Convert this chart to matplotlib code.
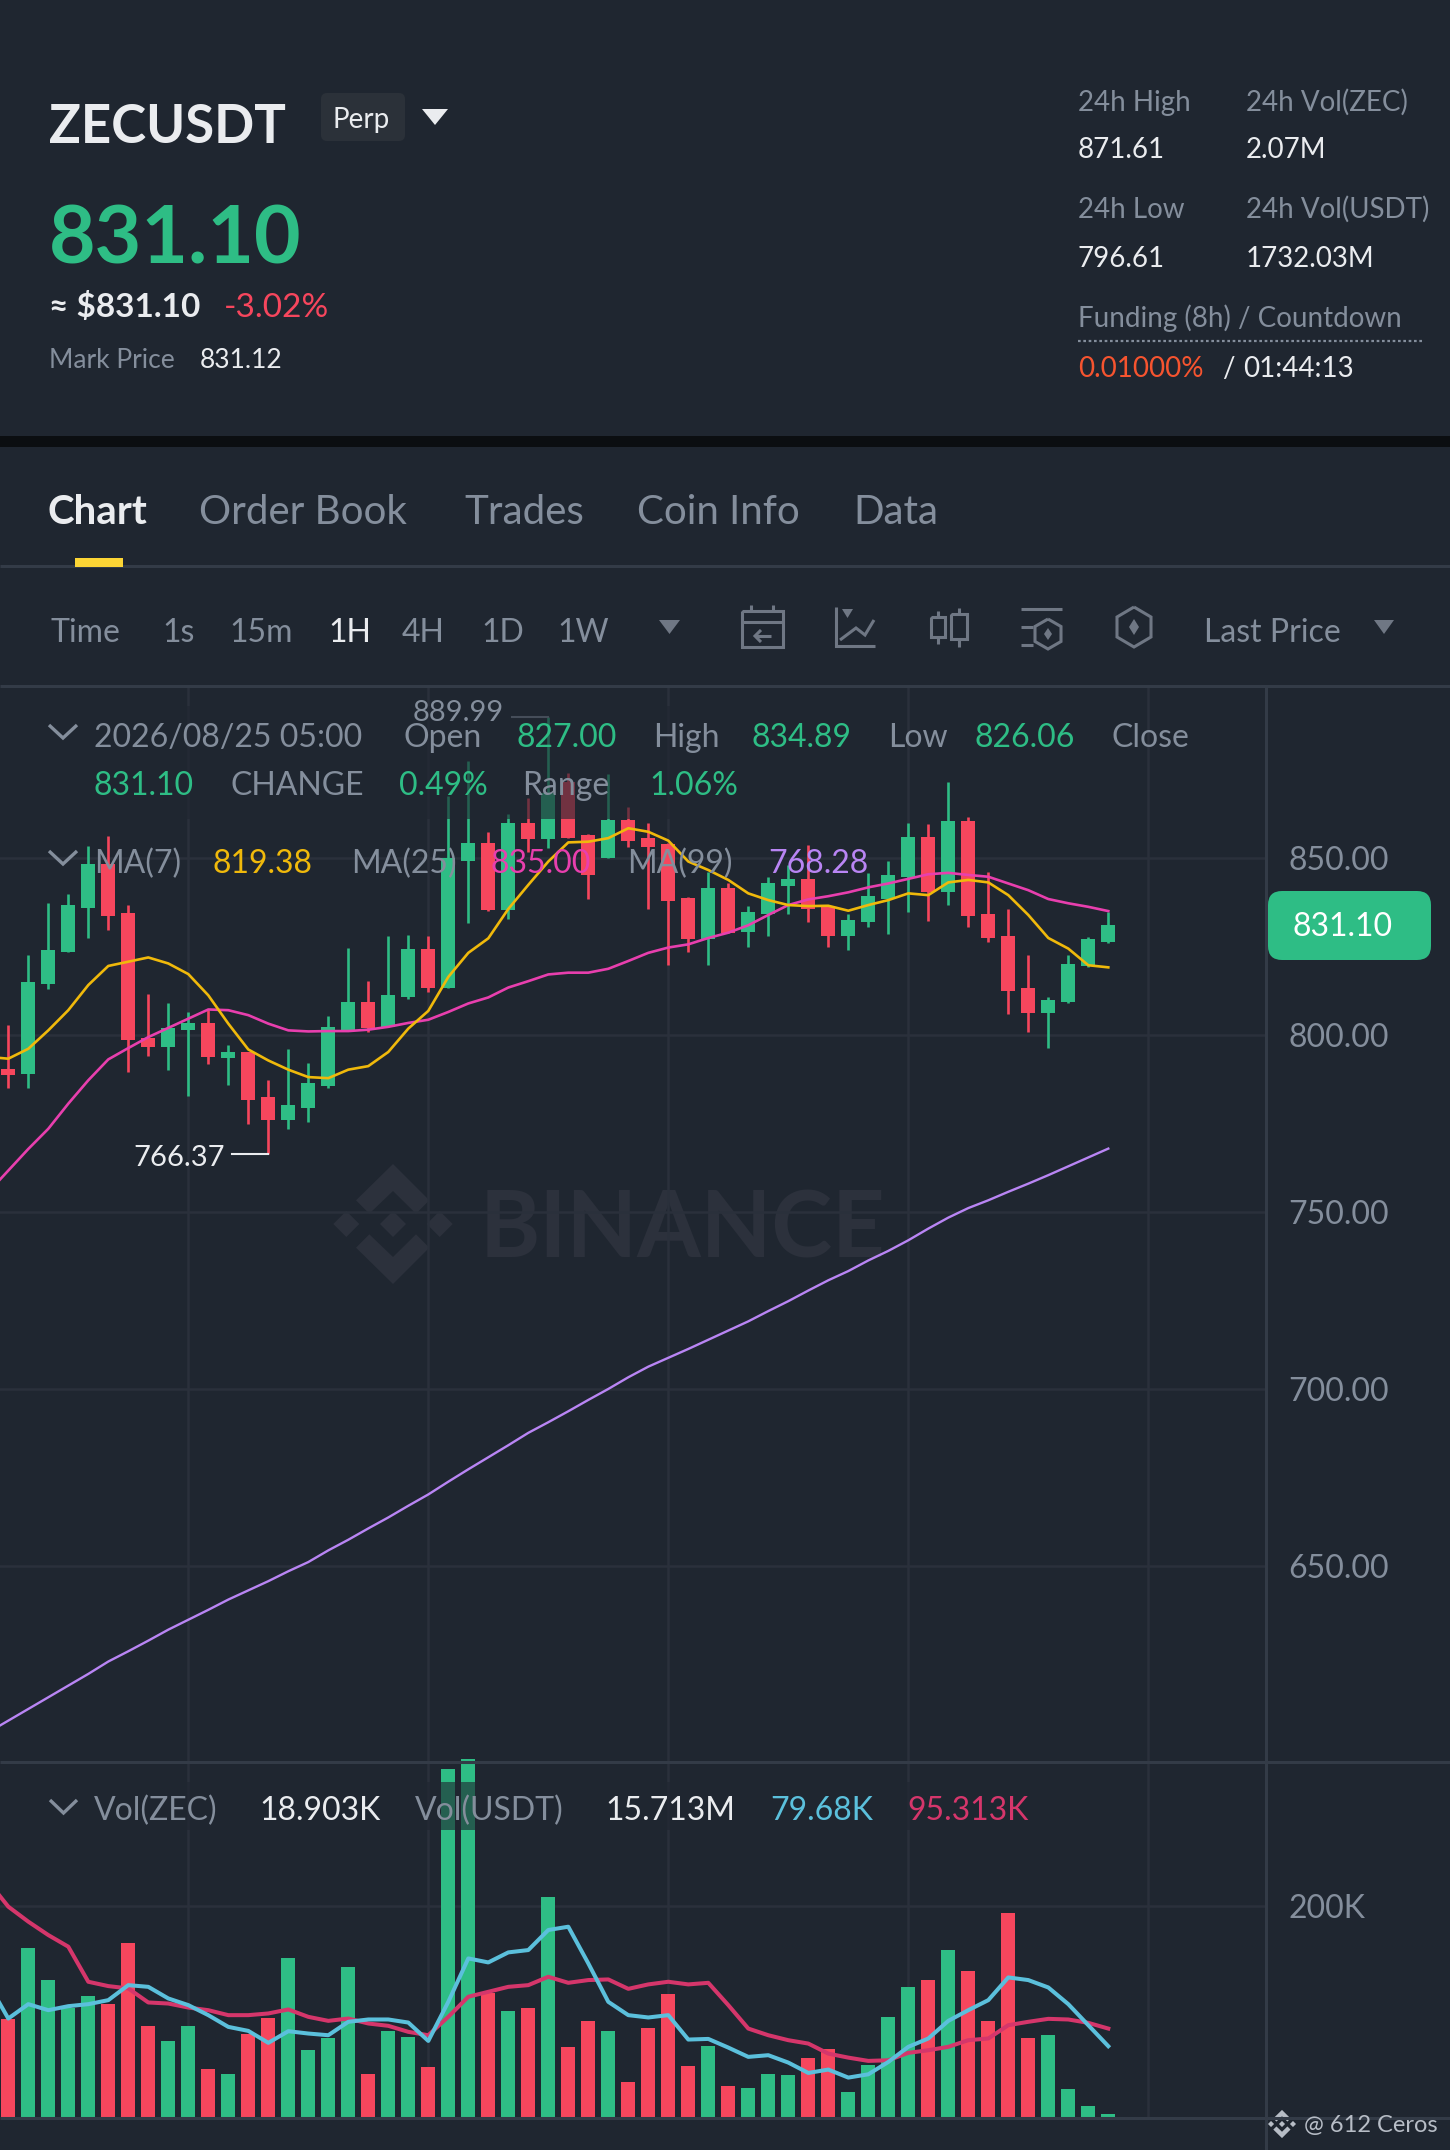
import matplotlib as mpl
import matplotlib.pyplot as plt
import numpy as np
from matplotlib.patches import FancyBboxPatch, Polygon, Rectangle

BG = "#1F2630"
GREEN = "#2EBD85"
RED = "#F6465D"
GRAY = "#848E9C"
WHITE = "#EAECEF"
GRID = "#2A303B"
LINE = "#333B47"
ICON = "#6F7784"

candle_open = [790.6, 789.0, 814.4, 823.4, 836.0, 848.3, 834.6, 799.2, 796.7, 801.4, 803.6, 793.7, 795.3, 782.5,
               776.1, 779.4, 785.7, 801.6, 809.4, 802.4, 810.7, 824.3, 813.5, 849.2, 854.2, 835.4, 859.9, 855.4,
               871.7, 856.6, 850.2, 860.8, 855.7, 854.1, 838.8, 827.1, 841.7, 829.1, 834.2, 842.3, 844.1, 836.3,
               828.0, 831.9, 838.4, 844.8, 855.9, 840.6, 860.6, 834.4, 828.1, 813.3, 806.4, 809.4, 819.5, 826.5]
candle_high = [802.8, 822.8, 837.5, 839.8, 853.6, 856.4, 836.8, 811.8, 809.0, 806.6, 807.1, 797.2, 795.3, 787.3,
               796.2, 792.2, 805.5, 824.7, 815.3, 828.0, 828.3, 828.1, 867.5, 877.5, 857.5, 862.5, 867.0, 889.99,
               874.0, 856.8, 873.8, 864.4, 859.9, 854.2, 839.0, 846.2, 843.0, 836.6, 844.6, 848.1, 853.7, 836.5,
               834.4, 845.8, 849.2, 859.9, 859.6, 871.5, 861.8, 846.2, 835.8, 822.8, 810.7, 822.6, 827.8, 834.9]
candle_low = [785.2, 785.1, 813.2, 823.4, 827.5, 829.7, 789.6, 794.2, 790.1, 783.0, 792.0, 786.1, 775.0, 766.37,
              773.6, 775.4, 785.2, 801.4, 801.0, 802.4, 810.2, 812.3, 813.5, 831.6, 835.2, 833.0, 851.9, 853.0,
              855.7, 838.4, 850.2, 853.3, 835.8, 820.0, 823.4, 820.0, 828.8, 825.0, 828.0, 834.4, 832.1, 825.0,
              824.2, 830.7, 828.6, 834.7, 832.4, 836.8, 830.5, 826.4, 806.0, 801.0, 796.5, 809.2, 819.3, 826.1]
candle_close = [788.9, 815.1, 824.1, 836.8, 848.3, 833.8, 798.6, 796.7, 802.1, 803.6, 793.9, 795.3, 781.8, 776.1,
                780.2, 786.5, 802.4, 809.4, 802.2, 811.4, 824.3, 813.5, 850.0, 854.2, 835.4, 859.9, 855.4, 868.4,
                855.7, 845.3, 860.8, 854.9, 853.3, 838.0, 827.1, 841.7, 828.8, 834.9, 843.1, 844.1, 835.8, 828.0,
                832.5, 839.3, 845.3, 855.9, 840.6, 860.6, 833.8, 827.4, 812.5, 806.4, 810.1, 820.1, 827.3, 831.3]

# the averages start one candle left of the screen, so the lines run off the edge
ma7 = [793.9, 793.4, 796.2, 801.4, 807.1, 814.2, 819.6, 820.8, 822.0, 820.3, 817.3, 811.3, 803.3, 796.0, 792.9,
       790.3, 788.2, 787.9, 790.3, 791.3, 795.3, 801.9, 806.9, 816.5, 823.3, 827.4, 835.7, 842.5, 849.1, 854.5,
       854.7, 855.7, 858.5, 857.5, 855.0, 849.1, 846.7, 843.9, 840.1, 838.2, 836.8, 836.5, 836.6, 835.2, 836.8,
       838.2, 840.1, 839.6, 843.2, 843.9, 843.2, 839.6, 834.0, 827.5, 824.5, 819.8, 819.2]
ma25 = [755.7, 761.8, 767.9, 773.6, 780.7, 787.3, 793.2, 796.4, 799.5, 802.1, 804.7, 807.3, 807.1, 805.7, 803.3,
        801.4, 801.1, 801.2, 801.2, 801.6, 802.4, 803.5, 804.4, 806.6, 809.0, 810.7, 813.5, 815.3, 817.2, 817.7,
        817.7, 818.8, 821.0, 823.3, 824.8, 825.7, 827.5, 829.0, 831.1, 834.0, 836.8, 838.4, 839.3, 840.4, 841.8,
        842.9, 844.2, 845.5, 845.9, 845.3, 844.8, 842.9, 841.0, 838.5, 837.3, 836.3, 835.1]
ma99 = [603.1, 606.4, 609.7, 613.0, 616.3, 619.6, 623.1, 626.0, 629.0, 632.1, 634.9, 637.7, 640.6, 643.2, 645.8,
        648.6, 651.2, 654.5, 657.5, 660.7, 663.8, 667.1, 670.3, 673.9, 677.4, 680.8, 684.2, 687.7, 690.7, 693.8,
        697.0, 700.1, 703.4, 706.4, 708.9, 711.4, 714.0, 716.6, 719.2, 722.1, 724.9, 727.9, 730.8, 733.4, 736.4,
        739.1, 742.1, 745.4, 748.5, 751.2, 753.4, 755.8, 758.1, 760.5, 763.0, 765.5, 768.0]

# volume in thousands
volume = [92.3, 159.6, 129.9, 102.7, 114.7, 107.4, 165.0, 86.0, 72.4, 86.6, 45.5, 41.0, 79.0, 93.9, 150.7, 63.5,
          75.2, 141.6, 40.8, 81.5, 75.8, 47.4, 329.6, 338.8, 116.9, 100.2, 102.7, 208.2, 66.4, 90.4, 81.8, 33.5,
          84.4, 116.3, 48.7, 67.0, 29.7, 27.2, 40.4, 40.1, 55.6, 64.8, 23.4, 49.0, 94.8, 122.9, 129.9, 158.3,
          137.8, 90.7, 192.8, 74.6, 78.0, 26.9, 10.1, 3.2]
vol_ma_short = [126.4, 93.2, 106.8, 101.1, 104.9, 106.8, 110.6, 124.8, 123.2, 112.2, 105.9, 96.4, 85.3, 81.5, 70.2,
                81.2, 79.0, 77.4, 90.1, 92.3, 92.3, 89.4, 72.0, 109.0, 150.1, 146.3, 155.8, 158.0, 177.0, 180.1,
                145.4, 109.0, 96.4, 94.2, 96.4, 73.3, 73.9, 65.7, 56.9, 58.5, 51.5, 41.7, 44.9, 37.3, 40.4, 52.1,
                66.4, 74.3, 91.0, 101.1, 110.6, 132.1, 129.6, 122.6, 106.8, 86.9, 67.0]
vol_ma_long = [222.8, 199.1, 184.9, 172.2, 161.2, 128.0, 123.9, 121.7, 108.4, 107.4, 103.6, 101.1, 96.4, 96.4, 98.0,
               101.8, 94.8, 91.0, 93.2, 88.5, 86.3, 80.6, 77.4, 94.8, 113.8, 118.5, 123.2, 124.8, 132.7, 127.0,
               129.6, 130.2, 121.3, 125.5, 128.0, 125.5, 127.0, 105.9, 83.7, 77.4, 72.7, 69.5, 60.0, 56.2, 53.1,
               53.7, 60.7, 63.2, 66.4, 72.7, 74.3, 86.9, 90.1, 92.9, 92.3, 89.1, 83.7]

price_ticks = [650, 700, 750, 800, 850]
volume_ticks = [200]
time_ticks = [9, 21, 33, 45, 57]

mpl.rcParams["font.family"] = ["Lato", "DejaVu Sans"]

W, H = 1450, 2150
fig = plt.figure(figsize=(W / 100, H / 100), dpi=100, facecolor=BG)


def pane(x0, y0, x1, y1):
    a = fig.add_axes([x0 / W, 1 - y1 / H, (x1 - x0) / W, (y1 - y0) / H], facecolor="none", zorder=1)
    for s in a.spines.values():
        s.set_visible(False)
    a.grid(True, color=GRID, linewidth=1.8, zorder=0)
    a.set_axisbelow(True)
    a.tick_params(length=0, labelbottom=False, labelleft=False, labelright=True, labelcolor=GRAY,
                  labelsize=23, pad=17)
    return a


# watermark sits under the panes
back = fig.add_axes([0, 0, 1, 1], zorder=0, facecolor="none")
back.set_xlim(0, W)
back.set_ylim(H, 0)
back.axis("off")

top = fig.add_axes([0, 0, 1, 1], zorder=2, facecolor="none")
top.set_xlim(0, W)
top.set_ylim(H, 0)
top.axis("off")


def logo(a, cx, cy, scale, color):
    chevron = np.array([(0, -60), (36.3, -23.7), (23, -10.3), (0, -33), (-23.7, -10.3), (-37, -23.7)])
    diamond = np.array([(0, -13), (13, 0), (0, 13), (-13, 0)])
    a.add_patch(Polygon(chevron * scale + (cx, cy), color=color, lw=0))
    a.add_patch(Polygon(chevron * (1, -1) * scale + (cx, cy), color=color, lw=0))
    for dx in (-46.7, 0, 46.7):
        a.add_patch(Polygon((diamond + (dx, 0)) * scale + (cx, cy), color=color, lw=0))


logo(back, 393, 1224, 1.0, "#2C313C")
back.text(480, 1257, "BINANCE", color="#2C313C", fontsize=66, fontweight="bold", va="baseline")

# price pane
ax = pane(0, 687, 1265, 1761)
idx = np.arange(len(candle_open))
ma_idx = np.arange(-1, len(candle_open))
o = np.array(candle_open)
c = np.array(candle_close)
colors = [GREEN if b >= a else RED for a, b in zip(o, c)]
ax.vlines(idx, candle_low, candle_high, colors=colors, linewidth=1.9, zorder=3)
ax.bar(idx, np.abs(c - o), bottom=np.minimum(o, c), width=0.7, color=colors, linewidth=0, zorder=3)
ax.plot(ma_idx, ma99, color="#B985F4", linewidth=1.7, zorder=4)
ax.plot(ma_idx, ma25, color="#E83FAE", linewidth=1.9, zorder=5)
ax.plot(ma_idx, ma7, color="#F0B90B", linewidth=1.9, zorder=6)
hi = int(np.argmax(candle_high))
lo = int(np.argmin(candle_low))
ax.plot([hi - 1.8, hi], [candle_high[hi]] * 2, color=GRAY, linewidth=1.5, zorder=3)
ax.plot([lo - 1.8, lo], [candle_low[lo]] * 2, color=WHITE, linewidth=1.5, zorder=3)
ax.set_xlim(-0.415, 62.835)
ax.set_ylim(595.0, 898.4)
ax.set_xticks(time_ticks)
ax.set_yticks(price_ticks)
ax.set_yticklabels([f"{t:.2f}" for t in price_ticks])

# volume pane
vx = pane(0, 1762, 1265, 2117)
vx.bar(idx, volume, width=0.7, color=colors, linewidth=0, zorder=3, clip_on=False)
vx.plot(ma_idx, vol_ma_long, color="#D5366B", linewidth=2.9, zorder=4)
vx.plot(ma_idx, vol_ma_short, color="#5BC0DC", linewidth=2.9, zorder=5)
vx.set_xlim(-0.415, 62.835)
vx.set_ylim(0, 336)
vx.set_xticks(time_ticks)
vx.set_yticks(volume_ticks)
vx.set_yticklabels(["200K"])


def label(x, y, s, color=GRAY, size=20, weight="normal", z=6):
    top.text(x, y, s, color=color, fontsize=size, fontweight=weight, va="baseline", ha="left", zorder=z)


def stroke(xs, ys, color=ICON, lw=2.2):
    top.plot(xs, ys, color=color, linewidth=lw, solid_capstyle="butt", solid_joinstyle="miter")


def tri(x0, x1, y0, y1, color):
    top.add_patch(Polygon([(x0, y0), (x1, y0), ((x0 + x1) / 2, y1)], color=color, lw=0))


def chevron(x0, x1, y0, y1):
    stroke([x0, (x0 + x1) / 2, x1], [y0, y1, y0], color=GRAY, lw=2.4)


def hexagon(cx, cy, w, h, dw, dh):
    stroke([cx, cx + w, cx + w, cx, cx - w, cx - w, cx],
           [cy - h, cy - h * 0.5, cy + h * 0.5, cy + h, cy + h * 0.5, cy - h * 0.5, cy - h])
    top.add_patch(Polygon([(cx, cy - dh), (cx + dw, cy), (cx, cy + dh), (cx - dw, cy)], color=ICON, lw=0))


# legend rows dim what is under them
top.add_patch(Rectangle((45, 706), 705, 113, facecolor=BG, alpha=0.62, lw=0, zorder=1))
top.add_patch(Rectangle((45, 1782), 1010, 48, facecolor=BG, alpha=0.62, lw=0, zorder=1))

# dividers
top.add_patch(Rectangle((0, 436), W, 11, facecolor="#0B0E11", lw=0))
for y in (565.5, 685.5, 1761.5, 2117.5):
    stroke([0, W], [y, y], color=LINE, lw=2.2)
stroke([1266, 1266], [687, H], color=LINE, lw=2.2)

# header
label(49, 143, "ZECUSDT", WHITE, 38, "bold")
top.add_patch(FancyBboxPatch((325, 97), 76, 40, boxstyle="round,pad=4,rounding_size=6", facecolor="#2B3139", lw=0))
label(333, 128, "Perp", WHITE, 20)
tri(422, 448, 109, 125, WHITE)
label(49, 264, "831.10", GREEN, 58, "bold")
label(49, 317, "≈ $831.10", WHITE, 24, "bold")
label(224, 317, "-3.02%", RED, 24, "normal")
label(49, 368, "Mark Price", GRAY, 19)
label(200, 368, "831.12", WHITE, 19)

label(1078, 111, "24h High")
label(1246, 111, "24h Vol(ZEC)")
label(1078, 158, "871.61", WHITE)
label(1246, 158, "2.07M", WHITE)
label(1078, 218, "24h Low")
label(1246, 218, "24h Vol(USDT)")
label(1078, 267, "796.61", WHITE)
label(1246, 267, "1732.03M", WHITE)
label(1078, 327, "Funding (8h) / Countdown")
top.plot([1078, 1422], [341, 341], color=GRAY, linewidth=1.6, linestyle=(0, (1.2, 1.2)))
label(1078, 377, "0.01000%", "#F6542F")
label(1222, 377, "/", WHITE)
label(1243, 377, "01:44:13", WHITE)

# tabs
label(48, 524, "Chart", WHITE, 29, "bold")
label(199, 524, "Order Book", GRAY, 29)
label(464, 524, "Trades", GRAY, 29)
label(637, 524, "Coin Info", GRAY, 29)
label(853, 524, "Data", GRAY, 29)
top.add_patch(Rectangle((75, 558), 48, 9, facecolor="#FCD535", lw=0, zorder=5))

# toolbar
for x, s, col in [(51, "Time", GRAY), (162, "1s", GRAY), (229, "15m", GRAY), (328, "1H", WHITE),
                  (402, "4H", GRAY), (481, "1D", GRAY), (557, "1W", GRAY), (1204, "Last Price", GRAY)]:
    label(x, 642, s, col, 23)
tri(659, 680, 620, 634, ICON)
tri(1374, 1394, 620, 634, ICON)

stroke([742, 783, 783, 742, 742], [611, 611, 647, 647, 611])
stroke([742, 783], [622, 622])
stroke([751, 751], [605, 611])
stroke([773, 773], [605, 611])
stroke([771, 755], [636, 636])
stroke([761, 755, 761], [630, 636, 642])
stroke([836, 836, 875], [607, 646, 646])
tri(842, 853, 609, 618, ICON)
stroke([840, 856, 865, 874], [640, 628, 635, 620])
for cx, bx0, bx1, wy0, wy1, by0, by1 in [(938, 931, 945, 611, 644, 617, 637), (959, 951, 967, 608, 647, 614, 639)]:
    stroke([cx, cx], [wy0, by0])
    stroke([cx, cx], [by1, wy1])
    stroke([bx0, bx1, bx1, bx0, bx0], [by0, by0, by1, by1, by0])
stroke([1021, 1062], [609, 609])
stroke([1021, 1033], [627, 627])
stroke([1021, 1033], [645, 645])
hexagon(1048, 634, 13, 15, 4, 6)
hexagon(1134, 627, 17, 20, 5, 8)

# ohlc legend
chevron(49, 77, 725, 738)
label(94, 747, "2026/08/25 05:00", GRAY, 23)
label(404, 747, "Open", GRAY, 23)
label(517, 747, "827.00", GREEN, 23)
label(653, 747, "High", GRAY, 23)
label(752, 747, "834.89", GREEN, 23)
label(888, 747, "Low", GRAY, 23)
label(975, 747, "826.06", GREEN, 23)
label(1112, 747, "Close", GRAY, 23)
label(94, 795, "831.10", GREEN, 23)
label(231, 795, "CHANGE", GRAY, 23)
label(399, 795, "0.49%", GREEN, 23)
label(522, 795, "Range", GRAY, 23)
label(649, 795, "1.06%", GREEN, 23)
chevron(49, 77, 851, 864)
label(94, 873, "MA(7)", GRAY, 23)
label(213, 873, "819.38", "#F0B90B", 23)
label(351, 873, "MA(25)", GRAY, 23)
label(491, 873, "835.00", "#E83FAE", 23)
label(627, 873, "MA(99)", GRAY, 23)
label(768, 873, "768.28", "#B985F4", 23)

label(413, 721, "889.99", GRAY, 21)
label(133, 1166, "766.37", WHITE, 21)

# last price badge
top.add_patch(FancyBboxPatch((1276, 899), 147, 53, boxstyle="round,pad=8,rounding_size=14", facecolor=GREEN, lw=0, zorder=5))
label(1293, 936, "831.10", "#FFFFFF", 23)

# volume legend
chevron(50, 77, 1800, 1813)
label(94, 1820, "Vol(ZEC)", GRAY, 23)
label(259, 1820, "18.903K", WHITE, 23)
label(415, 1820, "Vol(USDT)", GRAY, 23)
label(605, 1820, "15.713M", WHITE, 23)
label(770, 1820, "79.68K", "#5BC0DC", 23)
label(907, 1820, "95.313K", "#D5366B", 23)

logo(top, 1282, 2124, 0.235, "#B7BDC6")
label(1304, 2132, "@ 612 Ceros", "#B7BDC6", 17)

fig.savefig("out.png", dpi=100, facecolor=BG)
